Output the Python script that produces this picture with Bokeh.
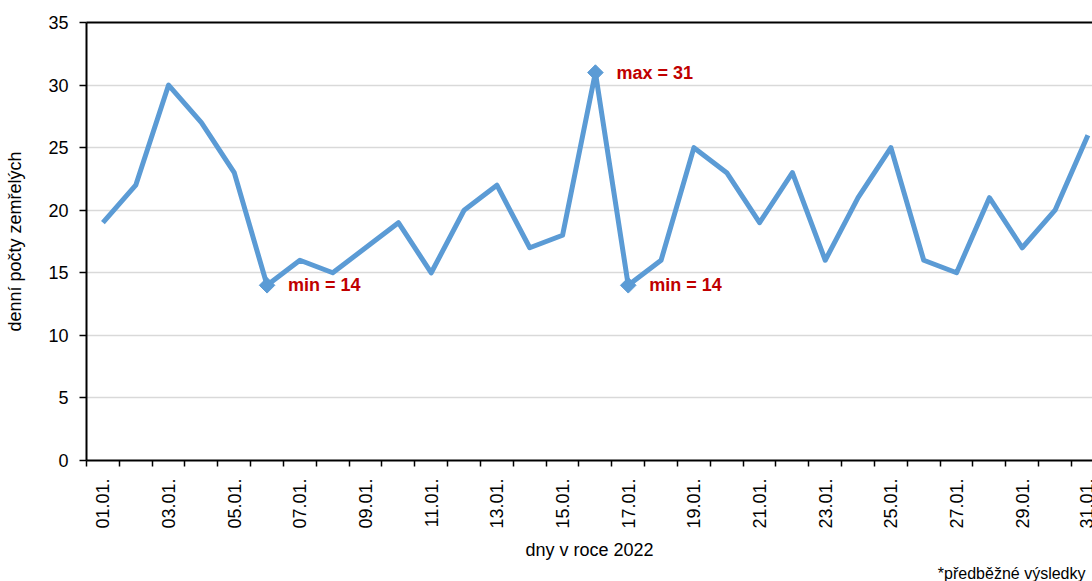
import math
from bokeh.plotting import figure
from bokeh.models import (Range1d, FixedTicker, LinearAxis, ColumnDataSource,
                          SingleIntervalTicker, Title)
from bokeh.core.properties import value
from bokeh.embed import file_html
from bokeh.resources import INLINE

# ---- data ----
days = list(range(1, 32))
day_labels = [f"{d:02d}.01." for d in days]
deaths = [19, 22, 30, 27, 23, 14, 16, 15, 17, 19, 15, 20, 22, 17, 18, 31,
          14, 16, 25, 23, 19, 23, 16, 21, 25, 16, 15, 21, 17, 20, 26]
x_title = "dny v roce 2022"
y_title = "denní počty zemřelých"
footnote = "*předběžné výsledky"

FONT = "Liberation Sans"
LINE_COLOR = "#5B9BD5"
ANN_COLOR = "#C00000"

p = figure(width=1092, height=581, output_backend="svg", toolbar_location=None,
           x_range=Range1d(0.5, 31.14), y_range=Range1d(0, 35),
           min_border_left=86, min_border_right=0, min_border_top=22,
           min_border_bottom=120)
p.outline_line_color = None
p.background_fill_color = "white"
p.border_fill_color = "white"

# grid
p.xgrid.visible = False
p.ygrid.grid_line_color = "#D9D9D9"
p.ygrid.grid_line_width = 1.5

# x axis
xa = p.xaxis[0]
xa.ticker = FixedTicker(ticks=days[::2], minor_ticks=[d - 0.5 for d in days] + [days[-1] + 0.5])
xa.major_label_overrides = {d: lab for d, lab in zip(days, day_labels)}
xa.major_tick_out = 0
xa.major_tick_in = 0
xa.minor_tick_out = 6
xa.minor_tick_in = 0
xa.minor_tick_line_color = "black"
xa.minor_tick_line_width = 1.5
xa.axis_line_color = "black"
xa.axis_line_width = 2
xa.major_label_orientation = math.pi / 2
xa.major_label_standoff = 12
xa.major_label_text_font = FONT
xa.major_label_text_font_size = "18px"
xa.major_label_text_color = "black"
xa.axis_label = x_title
xa.axis_label_text_font = FONT
xa.axis_label_text_font_size = "18px"
xa.axis_label_text_font_style = "normal"
xa.axis_label_text_line_height = 1.0
xa.axis_label_text_color = "black"
xa.axis_label_standoff = 8

# y axis
ya = p.yaxis[0]
ya.ticker = SingleIntervalTicker(interval=5, num_minor_ticks=0)
ya.major_tick_out = 7
ya.major_tick_in = 0
ya.minor_tick_out = 0
ya.minor_tick_in = 0
ya.major_tick_line_color = "black"
ya.major_tick_line_width = 1.5
ya.axis_line_color = "black"
ya.axis_line_width = 2
ya.major_label_standoff = 11
ya.major_label_text_font = FONT
ya.major_label_text_font_size = "18px"
ya.major_label_text_color = "black"
ya.axis_label = y_title
ya.axis_label_text_font = FONT
ya.axis_label_text_font_size = "18px"
ya.axis_label_text_font_style = "normal"
ya.axis_label_text_color = "black"
ya.axis_label_standoff = 20

# top border line
top = LinearAxis(ticker=FixedTicker(ticks=[]), major_tick_out=0, major_tick_in=0,
                 minor_tick_out=0, minor_tick_in=0, axis_line_color="black",
                 axis_line_width=2, major_label_text_font_size="0px")
p.add_layout(top, "above")

# footnote
p.add_layout(Title(text=footnote, align="right", offset=7, standoff=0,
                   text_font=FONT, text_font_size="16px", text_font_style="normal",
                   text_line_height=1.0, text_color="black"), "below")

# series
p.line(days, deaths, line_width=5, line_color=LINE_COLOR, line_join="round")

# min / max markers and labels
vmin, vmax = min(deaths), max(deaths)
ext_x, ext_y, ext_t = [], [], []
for d, v in zip(days, deaths):
    if v == vmin:
        ext_x.append(d); ext_y.append(v); ext_t.append(f"min = {v}")
    elif v == vmax:
        ext_x.append(d); ext_y.append(v); ext_t.append(f"max = {v}")
src = ColumnDataSource(dict(x=ext_x, y=ext_y, t=ext_t))
p.scatter("x", "y", source=src, marker="square", angle=math.pi / 4, size=11,
          fill_color=LINE_COLOR, line_color=LINE_COLOR)
p.text("x", "y", text="t", source=src, x_offset=21, text_baseline="middle",
       text_align="left", text_font=value(FONT), text_font_size="18px",
       text_font_style="bold", text_color=ANN_COLOR)

open("out.html", "w").write(file_html(p, INLINE))
